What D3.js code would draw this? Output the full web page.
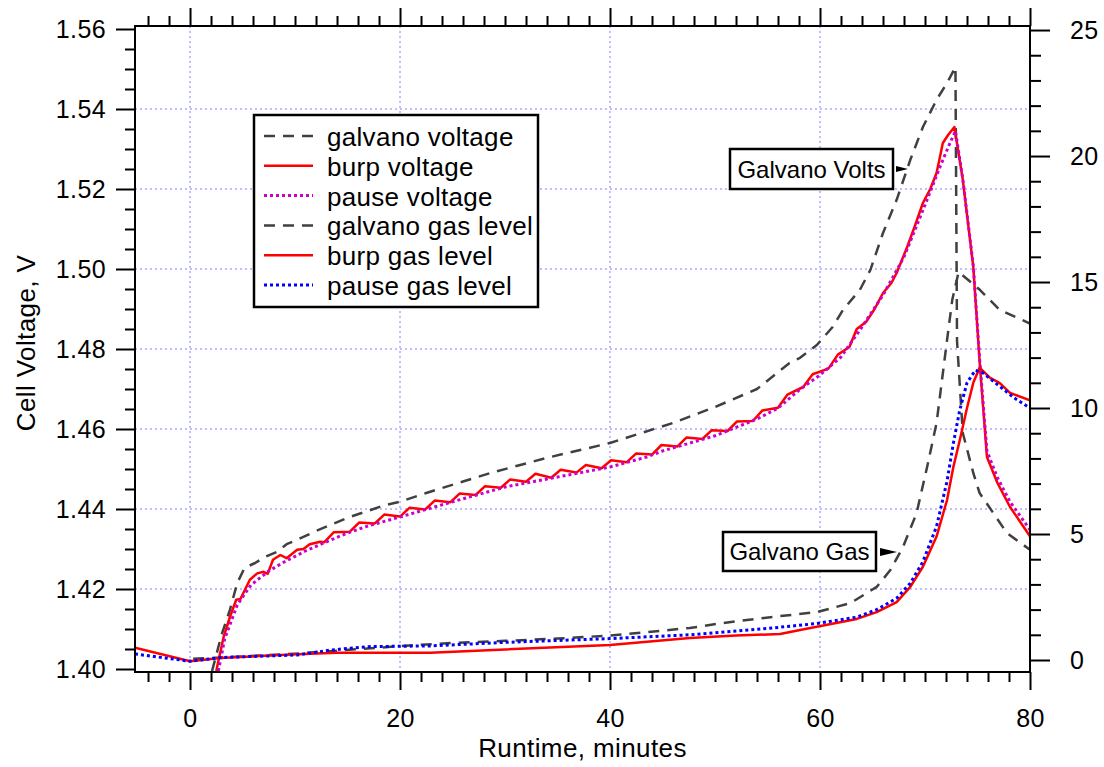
<!DOCTYPE html>
<html>
<head>
<meta charset="utf-8">
<script src="https://cdn.jsdelivr.net/npm/d3@7"></script>
<style>
  body { margin: 0; background: #fff; }
  svg text { font-family: "Liberation Sans", Arial, sans-serif; fill: #000; }
</style>
</head>
<body>
<svg id="chart" width="1104" height="767"></svg>
<script>
// ---------------------------------------------------------------------------
// DATA  (runtime in minutes, voltage in V, gas level on right axis)
// ---------------------------------------------------------------------------
const galvanoVoltage = [
  [2.1, 1.3995], [3.0, 1.4085], [3.8, 1.4148], [4.5, 1.4215], [5.2, 1.4253], [6.2, 1.4265],
  [7.1, 1.428], [8.3, 1.4293], [9.2, 1.4312], [10.2, 1.4323], [12, 1.4345], [15, 1.4378],
  [18.6, 1.441], [20, 1.4418], [22.5, 1.444], [28.6, 1.449], [34, 1.4528], [40, 1.4565],
  [46, 1.4615], [50, 1.4655], [54, 1.470], [57.1, 1.4765], [58.1, 1.4778], [59.7, 1.481],
  [61.2, 1.4855], [62.2, 1.4898], [63.8, 1.4948], [64.8, 1.4998], [66, 1.509], [67.3, 1.5173],
  [68.6, 1.5273], [69.8, 1.5355], [71.1, 1.5423], [72.1, 1.5465], [72.9, 1.5505],
  [73.05, 1.482], [73.3, 1.4715], [73.6, 1.459], [74.6, 1.449], [75.2, 1.444], [76.5, 1.439],
  [77.8, 1.434], [80, 1.4298]
];

const burpVoltage = [
  [2.5, 1.3995], [3.2, 1.408], [3.8, 1.413], [4.4, 1.4173], [4.8, 1.4175], [5.7, 1.4223],
  [6.4, 1.4239], [7.0, 1.4243], [7.4, 1.4238], [7.9, 1.4273], [8.6, 1.4285], [9.2, 1.4277],
  [10.2, 1.4298], [10.8, 1.4300], [11.4, 1.4312], [12.4, 1.4318], [12.8, 1.4317], [13.7, 1.4342],
  [15.2, 1.4343], [16.1, 1.4366], [17.6, 1.4364], [18.5, 1.4386], [20, 1.4381], [20.9, 1.4403],
  [22.4, 1.4399], [23.3, 1.4421], [24.8, 1.4417], [25.7, 1.4439], [27.2, 1.4435], [28.1, 1.4457],
  [29.6, 1.4453], [30.5, 1.4474], [32, 1.4468], [32.9, 1.4488], [34.4, 1.4478], [35.3, 1.4498],
  [36.8, 1.4491], [37.7, 1.4510], [39.2, 1.4502], [40.1, 1.4522], [41.6, 1.4517], [42.5, 1.4539],
  [44, 1.4536], [44.9, 1.4560], [46.4, 1.4556], [47.3, 1.4579], [48.8, 1.4575], [49.7, 1.4597],
  [51.2, 1.4595], [52.1, 1.4619], [53.6, 1.4620], [54.5, 1.4646], [56, 1.4653], [56.9, 1.4686],
  [58.4, 1.4705], [59.3, 1.4737], [60.8, 1.4751], [61.7, 1.4786], [62.8, 1.4805], [63.5, 1.4850],
  [64.4, 1.4868], [65.2, 1.4900], [66.0, 1.4940], [66.8, 1.4965], [67.3, 1.4990], [68.3, 1.5055],
  [69.0, 1.5105], [69.8, 1.5165], [70.5, 1.5200], [71.1, 1.5240], [71.7, 1.5315], [72.2, 1.5335],
  [72.8, 1.5355], [73.6, 1.5223], [74.6, 1.5005], [75.2, 1.4770], [75.9, 1.4530], [76.9, 1.4465],
  [78.1, 1.4405], [80, 1.4332]
];

const pauseVoltage = [
  [2.7, 1.3995], [3.3, 1.4075], [4.5, 1.416], [5.8, 1.421], [7.5, 1.4245], [9, 1.4268],
  [11, 1.4295], [13, 1.4318], [15, 1.434], [17, 1.4358], [20, 1.438], [25, 1.4418], [30, 1.4455],
  [35, 1.448], [40, 1.4505], [43.5, 1.453], [45, 1.4545], [50, 1.4583], [54, 1.4625], [56, 1.4652],
  [58, 1.4697], [60, 1.4735], [62, 1.478], [64, 1.4855], [66, 1.4935], [68, 1.503], [70, 1.516],
  [71.5, 1.526], [72.3, 1.531], [72.9, 1.5345], [73.6, 1.5225], [74.6, 1.5008], [75.2, 1.4775],
  [75.9, 1.4545], [76.9, 1.4478], [78.1, 1.4418], [80, 1.4348]
];

const galvanoGas = [
  [0.3, 0.05], [3, 0.1], [10, 0.25], [20, 0.55], [25, 0.68], [30, 0.76], [35, 0.85], [40, 0.97],
  [47.6, 1.27], [50.8, 1.47], [55.5, 1.71], [59.7, 1.9], [62.9, 2.26], [65.4, 2.9], [66.7, 3.57],
  [67.9, 4.48], [69.2, 5.83], [70.2, 7.66], [71.1, 9.4], [72.1, 12.7], [72.6, 14.3], [73.2, 15.4],
  [75.2, 14.7], [77.1, 13.9], [80, 13.35]
];

const burpGas = [
  [-5.24, 0.49], [0, -0.05], [2.9, 0.08], [10.2, 0.23], [14, 0.29], [22.9, 0.29], [30, 0.42],
  [40, 0.6], [47.6, 0.87], [52, 0.97], [56.2, 1.03], [58.1, 1.19], [63.5, 1.63], [65.4, 1.9],
  [67.3, 2.3], [68.6, 2.9], [69.8, 3.7], [71.1, 4.9], [72.1, 6.35], [72.7, 7.66], [73.3, 8.7],
  [74.0, 10.0], [74.6, 11.0], [75.2, 11.6], [76.2, 11.2], [77.1, 11.0], [78.1, 10.6], [80, 10.3]
];

const pauseGas = [
  [-5.24, 0.24], [0, -0.05], [3, 0.1], [10.2, 0.2], [13.5, 0.4], [17, 0.53], [22.9, 0.56],
  [30, 0.7], [40, 0.85], [47.6, 1.0], [55, 1.25], [59.7, 1.45], [63.5, 1.7], [65.4, 2.0],
  [67.3, 2.45], [68.6, 3.05], [69.8, 3.9], [71.1, 5.3], [72.1, 7.1], [72.7, 8.6], [73.3, 9.9],
  [74.0, 11.0], [74.8, 11.5], [75.5, 11.4], [77, 10.9], [78.5, 10.4], [80, 10.0]
];

const xMajorTicks = [0, 20, 40, 60, 80];
const yLeftTicks = [1.40, 1.42, 1.44, 1.46, 1.48, 1.50, 1.52, 1.54, 1.56];
const yRightTicks = [0, 5, 10, 15, 20, 25];
const legendLabels = ['galvano voltage', 'burp voltage', 'pause voltage',
  'galvano gas level', 'burp gas level', 'pause gas level'];

// ---------------------------------------------------------------------------
// SET UP
// ---------------------------------------------------------------------------
const plot = { left: 135, right: 1030, top: 26, bottom: 672 };

const x = d3.scaleLinear().domain([-5.24, 80]).range([plot.left, plot.right]);
const yV = d3.scaleLinear().domain([1.39925, 1.56075]).range([plot.bottom, plot.top]);
const yG = d3.scaleLinear().domain([-0.476, 25.16]).range([plot.bottom, plot.top]);

const svg = d3.select('#chart');

svg.append('defs').append('clipPath').attr('id', 'clip')
  .append('rect')
    .attr('x', plot.left).attr('y', plot.top)
    .attr('width', plot.right - plot.left).attr('height', plot.bottom - plot.top);

// grid
const grid = svg.append('g').attr('stroke', '#7f7fff').attr('stroke-width', 1)
  .attr('stroke-dasharray', '2,3');
grid.selectAll('line.vx')
  .data([0, 20, 40, 60])
  .enter().append('line')
    .attr('x1', d => x(d)).attr('x2', d => x(d))
    .attr('y1', plot.top).attr('y2', plot.bottom);
grid.selectAll('line.hy')
  .data(yLeftTicks.slice(1, -1))
  .enter().append('line')
    .attr('x1', plot.left).attr('x2', plot.right)
    .attr('y1', d => yV(d)).attr('y2', d => yV(d));

// ---------------------------------------------------------------------------
// SERIES
// ---------------------------------------------------------------------------
const styles = [
  { data: galvanoVoltage, y: yV, color: '#404040', width: 2.5, dash: '11,8' },
  { data: burpVoltage, y: yV, color: '#ff0000', width: 2.5, dash: null },
  { data: pauseVoltage, y: yV, color: '#cc00cc', width: 3, dash: '3,3' },
  { data: galvanoGas, y: yG, color: '#404040', width: 2.5, dash: '11,8' },
  { data: burpGas, y: yG, color: '#ff0000', width: 2.5, dash: null },
  { data: pauseGas, y: yG, color: '#0000ff', width: 3, dash: '3,3' },
];

const lines = svg.append('g').attr('clip-path', 'url(#clip)');
styles.forEach((s) => {
  const line = d3.line().x(d => x(d[0])).y(d => s.y(d[1]));
  lines.append('path')
    .datum(s.data)
    .attr('d', line)
    .attr('fill', 'none')
    .attr('stroke', s.color)
    .attr('stroke-width', s.width)
    .attr('stroke-linejoin', 'round')
    .attr('stroke-dasharray', s.dash);
});

// ---------------------------------------------------------------------------
// AXES
// ---------------------------------------------------------------------------
const minorX = d3.range(-4, 80, 2).filter(d => d % 20 !== 0);
const minorYL = d3.range(1.40, 1.5601, 0.005).filter(d => Math.abs(Math.round(d * 50) - d * 50) > 1e-6);
const minorYR = d3.range(0, 25.5, 1).filter(d => d % 5 !== 0);

function styleAxis(g, fontSize) {
  g.select('.domain').remove();
  g.selectAll('.tick line').attr('stroke', '#000').attr('stroke-width', 2);
  g.selectAll('.tick text')
    .attr('font-size', fontSize)
    .attr('letter-spacing', '0.4px')
    .attr('font-family', '"Liberation Sans", Arial, sans-serif');
}

// bottom
svg.append('g').attr('transform', `translate(0,${plot.bottom})`)
  .call(d3.axisBottom(x).tickValues(xMajorTicks).tickSize(18).tickPadding(19).tickFormat(d3.format('d')))
  .call(g => styleAxis(g, 25));
svg.append('g').attr('transform', `translate(0,${plot.bottom})`)
  .call(d3.axisBottom(x).tickValues(minorX).tickSize(10).tickFormat(''))
  .call(g => styleAxis(g, 25));
// top
svg.append('g').attr('transform', `translate(0,${plot.top})`)
  .call(d3.axisTop(x).tickValues(xMajorTicks).tickSize(18).tickFormat(''))
  .call(g => styleAxis(g, 25));
svg.append('g').attr('transform', `translate(0,${plot.top})`)
  .call(d3.axisTop(x).tickValues(minorX).tickSize(10).tickFormat(''))
  .call(g => styleAxis(g, 25));
// left
svg.append('g').attr('transform', `translate(${plot.left},0)`)
  .call(d3.axisLeft(yV).tickValues(yLeftTicks).tickSize(19).tickPadding(10).tickFormat(d3.format('.2f')))
  .call(g => styleAxis(g, 25));
svg.append('g').attr('transform', `translate(${plot.left},0)`)
  .call(d3.axisLeft(yV).tickValues(minorYL).tickSize(10).tickFormat(''))
  .call(g => styleAxis(g, 25));
// right
svg.append('g').attr('transform', `translate(${plot.right},0)`)
  .call(d3.axisRight(yG).tickValues(yRightTicks).tickSize(20).tickPadding(20).tickFormat(d3.format('d')))
  .call(g => styleAxis(g, 25));
svg.append('g').attr('transform', `translate(${plot.right},0)`)
  .call(d3.axisRight(yG).tickValues(minorYR).tickSize(11).tickFormat(''))
  .call(g => styleAxis(g, 25));

// frame
svg.append('rect')
  .attr('x', plot.left).attr('y', plot.top)
  .attr('width', plot.right - plot.left).attr('height', plot.bottom - plot.top)
  .attr('fill', 'none').attr('stroke', '#000').attr('stroke-width', 2);

// axis titles
svg.append('text')
  .attr('x', (plot.left + plot.right) / 2).attr('y', 757)
  .attr('text-anchor', 'middle').attr('font-size', 26).attr('letter-spacing', '0.4px')
  .text('Runtime, minutes');
svg.append('text')
  .attr('transform', 'translate(35,343) rotate(-90)')
  .attr('text-anchor', 'middle').attr('font-size', 26).attr('letter-spacing', '0.4px')
  .text('Cell Voltage, V');

// ---------------------------------------------------------------------------
// LEGEND
// ---------------------------------------------------------------------------
const legend = svg.append('g');
legend.append('rect')
  .attr('x', 254).attr('y', 115).attr('width', 284).attr('height', 192)
  .attr('fill', '#fff').attr('stroke', '#000').attr('stroke-width', 2.5);
legendLabels.forEach((label, i) => {
  const s = styles[i];
  const ly = 136 + i * 29.8;
  legend.append('line')
    .attr('x1', 264).attr('x2', 313).attr('y1', ly).attr('y2', ly)
    .attr('stroke', s.color).attr('stroke-width', s.width)
    .attr('stroke-dasharray', s.dash);
  legend.append('text')
    .attr('x', 327).attr('y', ly + 10)
    .attr('font-size', 26).attr('letter-spacing', '0.3px')
    .text(label);
});

// ---------------------------------------------------------------------------
// ANNOTATIONS
// ---------------------------------------------------------------------------
function tag(label, bx, by, bw, bh, ax1, ax2, ay, ah) {
  const g = svg.append('g');
  g.append('rect')
    .attr('x', bx).attr('y', by).attr('width', bw).attr('height', bh)
    .attr('fill', '#fff').attr('stroke', '#000').attr('stroke-width', 2.5);
  g.append('text')
    .attr('x', bx + bw / 2).attr('y', by + bh / 2 + 8.5)
    .attr('text-anchor', 'middle').attr('font-size', 24)
    .text(label);
  g.append('path')
    .attr('d', `M${ax1},${ay - ah / 2}L${ax2},${ay}L${ax1},${ay + ah / 2}Z`)
    .attr('fill', '#000');
}
tag('Galvano Volts', 730, 149, 163, 40, 896, 908, 169, 6);
tag('Galvano Gas', 723, 532, 153, 39, 880, 897, 552, 8);
</script>
</body>
</html>
